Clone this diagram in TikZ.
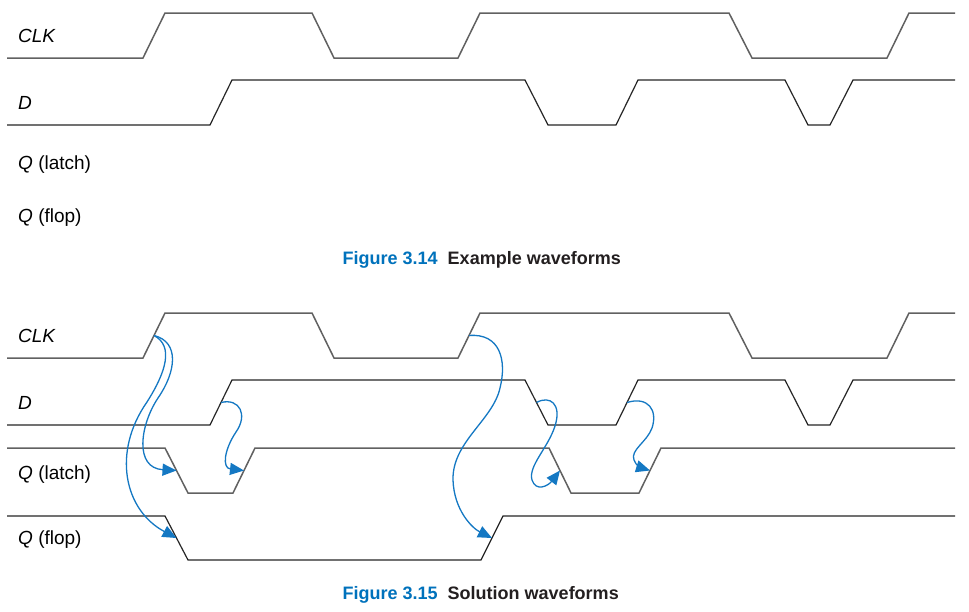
\documentclass[tikz,border=0pt]{standalone}
\usepackage{fontspec}
\setmainfont{Liberation Sans}
\usetikzlibrary{arrows.meta}
\definecolor{capblue}{RGB}{0,114,188}
\definecolor{arrblue}{RGB}{20,120,195}
\definecolor{capdark}{RGB}{35,31,32}
\begin{document}
\begin{tikzpicture}[x=1pt,y=-1pt,
  wavegray/.style={draw=black!62,line width=1.5pt,line join=miter},
  wavedark/.style={draw=black!85,line width=1.2pt,line join=miter},
  siglabel/.style={anchor=base west,inner sep=0pt,font=\fontsize{19}{22}\selectfont},
  caption/.style={anchor=base west,inner sep=0pt,font=\fontsize{18}{21}\selectfont\bfseries},
  causal/.style={draw=arrblue,line width=1.3pt,-{Triangle[length=14pt,width=12pt]}}]
\useasboundingbox[fill=white] (0,0) rectangle (969,611);

% ---------- Figure 3.14 ----------
\node[siglabel] (tclk) at (18,42.7) {\textit{CLK}};
\node[siglabel] (td) at (18,109.3) {\textit{D}};
\node[siglabel] (tql) at (18,169) {\textit{Q} (latch)};
\node[siglabel] (tqf) at (18,222.5) {\textit{Q} (flop)};

\draw[wavegray] (7,58) -- (143,58) -- (165,13) -- (312,13) -- (334,58) -- (458,58) -- (480,13)
  -- (729,13) -- (752,58) -- (887,58) -- (909,13) -- (955,13);
\draw[wavedark] (7,125) -- (210,125) -- (232,80) -- (525,80) -- (548,125) -- (616,125) -- (638,80)
  -- (785,80) -- (808,125) -- (830,125) -- (853,80) -- (955,80);

\node[caption] (cap1) at (342.5,264.3) {\textcolor{capblue}{Figure 3.14}\hspace{10pt}\textcolor{capdark}{Example waveforms}};

% ---------- Figure 3.15 ----------
\node[siglabel] (bclk) at (18,342.7) {\textit{CLK}};
\node[siglabel] (bd) at (18,409.3) {\textit{D}};
\node[siglabel] (bql) at (18,479.3) {\textit{Q} (latch)};
\node[siglabel] (bqf) at (18,544.5) {\textit{Q} (flop)};

\draw[wavegray] (7,358) -- (143,358) -- (165,313) -- (312,313) -- (334,358) -- (458,358) -- (480,313)
  -- (729,313) -- (752,358) -- (887,358) -- (909,313) -- (955,313);
\draw[wavedark] (7,425) -- (210,425) -- (232,380) -- (525,380) -- (548,425) -- (616,425) -- (638,380)
  -- (785,380) -- (808,425) -- (830,425) -- (853,380) -- (955,380);
\draw[wavegray] (7,448) -- (165,448) -- (188,493) -- (233,493) -- (255,448) -- (549,448) -- (571,493)
  -- (639,493) -- (661,448) -- (955,448);
\draw[wavedark] (7,516) -- (165,516) -- (188,560) -- (481,560) -- (503,516) -- (955,516);

% edge midpoints
\coordinate (clkA) at (154,335.5);
\coordinate (clkB) at (469,335.5);
\coordinate (dA) at (221,402.5);
\coordinate (dB) at (536.5,402.5);
\coordinate (dC) at (627,402.5);
\coordinate (qlA) at (176.5,470.5);
\coordinate (qlB) at (244,470.5);
\coordinate (qlC) at (560,470.5);
\coordinate (qlD) at (650,470.5);
\coordinate (qfA) at (176.5,538);
\coordinate (qfB) at (492,538);

% causality arrows
\draw[causal] (clkA) .. controls (180,342) and (176,372) .. (158,398)
  .. controls (140,425) and (134,468) .. (qlA);
\draw[causal] (clkA) .. controls (174,346) and (166,372) .. (147,402)
  .. controls (112,452) and (124,510) .. (qfA);
\draw[causal] (dA) .. controls (240,398) and (248,415) .. (236,432)
  .. controls (224,450) and (222,468) .. (qlB);
\draw[causal] (clkB) .. controls (500,333) and (507,360) .. (500,388)
  .. controls (493,420) and (452,442) .. (453,480)
  .. controls (454,510) and (472,528) .. (qfB);
\draw[causal] (dB) .. controls (550,395) and (562,404) .. (555,426)
  .. controls (548,448) and (528,466) .. (532,480)
  .. controls (536,492) and (548,486) .. (qlC);
\draw[causal] (dC) .. controls (648,396) and (658,410) .. (652,428)
  .. controls (647,442) and (630,450) .. (634,460)
  .. controls (636,466) and (642,468) .. (qlD);

\node[caption] (cap2) at (342.5,599.3) {\textcolor{capblue}{Figure 3.15}\hspace{10pt}\textcolor{capdark}{Solution waveforms}};
\end{tikzpicture}
\end{document}
